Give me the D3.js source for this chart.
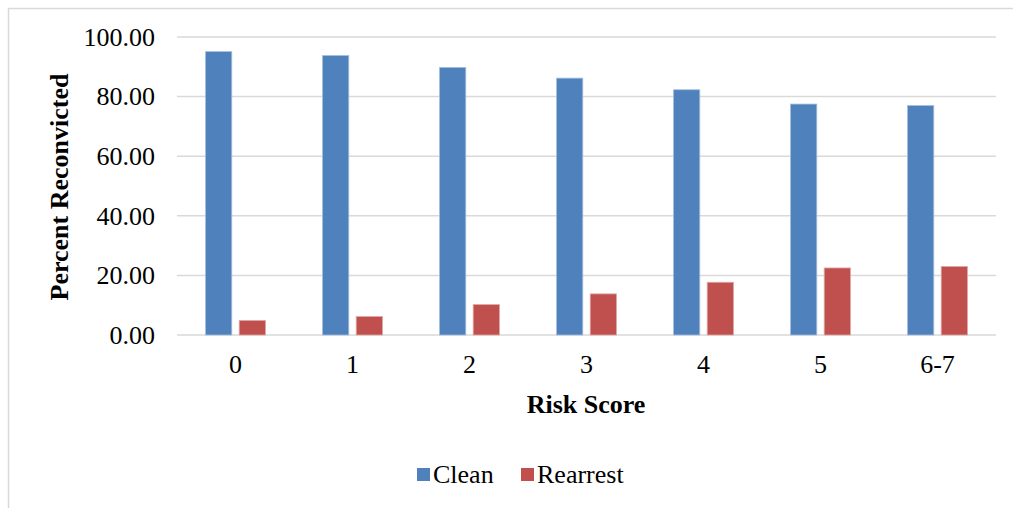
<!DOCTYPE html>
<html>
<head>
<meta charset="utf-8">
<script src="https://cdn.jsdelivr.net/npm/d3@7"></script>
<style>
  html, body { margin: 0; padding: 0; background: #fff; }
  svg { display: block; }
</style>
</head>
<body>
<svg id="chart" width="1013" height="508"></svg>
<script>
// Reconviction outcome by risk score
const categories = ["0", "1", "2", "3", "4", "5", "6-7"];
const seriesNames = ["Clean", "Rearrest"];
const cleanValues = [95.1, 93.8, 89.8, 86.2, 82.3, 77.5, 77.0];
const rearrestValues = [4.9, 6.2, 10.2, 13.8, 17.7, 22.5, 23.0];
const yTicks = [0, 20, 40, 60, 80, 100];
const colors = ["#4f81bd", "#c0504d"];
const edgeColors = ["#a7bfde", "#e0a8a6"];

const FONT = "'Liberation Serif', 'Times New Roman', serif";
const FS = 26;

const svg = d3.select("#chart");
const W = 1013, H = 508;
const plot = { left: 177, right: 996, top: 37, bottom: 335 };

// outer frame
svg.append("rect")
  .attr("x", 8.5).attr("y", 8.5)
  .attr("width", W + 20).attr("height", H + 20)
  .attr("fill", "#fff").attr("stroke", "#d9d9d9").attr("stroke-width", 1.5);

const x = d3.scaleBand().domain(categories).range([plot.left, plot.right]).padding(0);
const y = d3.scaleLinear().domain([0, 100]).range([plot.bottom, plot.top]);
const xInner = d3.scaleBand().domain(seriesNames)
  .range([x.bandwidth() / 2 - 30, x.bandwidth() / 2 + 30]).paddingInner(0.22).paddingOuter(0);

// gridlines
const grid = svg.append("g");
grid.selectAll("line").data(yTicks).join("line")
  .attr("x1", plot.left).attr("x2", plot.right)
  .attr("y1", d => y(d)).attr("y2", d => y(d))
  .attr("stroke", "#d9d9d9").attr("stroke-width", 1.5);

// y axis labels
const yAxis = d3.axisLeft(y).tickValues(yTicks).tickFormat(d3.format(".2f")).tickSize(0).tickPadding(22);
const gy = svg.append("g").attr("transform", `translate(${plot.left},0)`).call(yAxis);
gy.select(".domain").remove();
gy.selectAll("text").style("font-size", FS + "px").style("font-family", FONT).attr("fill", "#000");

// x axis labels
const xAxis = d3.axisBottom(x).tickSize(0).tickPadding(20);
const gx = svg.append("g").attr("transform", `translate(0,${plot.bottom})`).call(xAxis);
gx.select(".domain").remove();
gx.selectAll("text").style("font-size", FS + "px").style("font-family", FONT).attr("fill", "#000");

// bars
const rows = categories.map((c, i) => ({ cat: c, vals: [cleanValues[i], rearrestValues[i]] }));
const groups = svg.append("g").selectAll("g").data(rows).join("g")
  .attr("transform", d => `translate(${x(d.cat)},0)`);
groups.selectAll("rect")
  .data(d => d.vals.map((v, k) => ({ name: seriesNames[k], v, k })))
  .join("rect")
  .attr("x", d => xInner(d.name))
  .attr("width", xInner.bandwidth())
  .attr("y", d => y(d.v))
  .attr("height", d => y(0) - y(d.v))
  .attr("fill", d => colors[d.k])
  .attr("stroke", d => edgeColors[d.k])
  .attr("stroke-width", 0.8);

// axis titles
svg.append("text")
  .attr("transform", `translate(68,${(plot.top + plot.bottom) / 2 + 1}) rotate(-90)`)
  .attr("text-anchor", "middle")
  .style("font-family", FONT).style("font-size", FS + "px").style("font-weight", "bold")
  .text("Percent Reconvicted");

svg.append("text")
  .attr("x", 586).attr("y", 413)
  .attr("text-anchor", "middle")
  .style("font-family", FONT).style("font-size", FS + "px").style("font-weight", "bold")
  .text("Risk Score");

// legend
const legendItems = [
  { name: "Clean", x: 417 },
  { name: "Rearrest", x: 521 }
];
const lg = svg.append("g").selectAll("g").data(legendItems).join("g")
  .attr("transform", d => `translate(${d.x},0)`);
lg.append("rect").attr("x", 0).attr("y", 468).attr("width", 13).attr("height", 13)
  .attr("fill", (d, i) => colors[i]);
lg.append("text").attr("x", 16).attr("y", 483)
  .style("font-family", FONT).style("font-size", FS + "px")
  .text(d => d.name);
</script>
</body>
</html>
